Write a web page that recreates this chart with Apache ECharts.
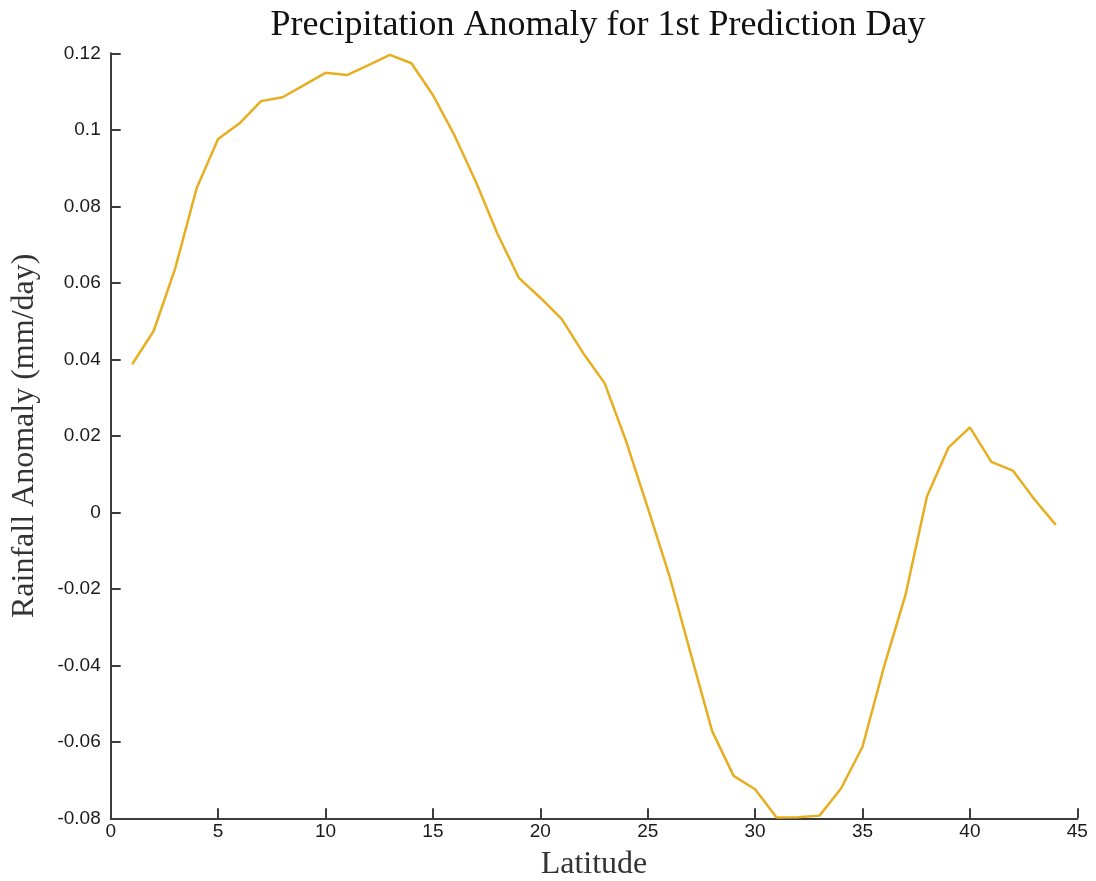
<!DOCTYPE html>
<html><head><meta charset="utf-8">
<script src="https://cdn.jsdelivr.net/npm/echarts@6/dist/echarts.min.js"></script>
<style>html,body{margin:0;padding:0;background:#fff}#c{width:1096px;height:881px}</style>
</head><body><div id="c"></div>
<script>
const latitudes = [1,2,3,4,5,6,7,8,9,10,11,12,13,14,15,16,17,18,19,20,21,22,23,24,25,26,27,28,29,30,31,32,33,34,35,36,37,38,39,40,41,42,43,44];
const anomaly = [0.0387,0.0474,0.0637,0.0847,0.0976,0.1017,0.1075,0.1085,0.1117,0.1149,0.1143,0.1169,0.1196,0.1174,0.1091,0.0986,0.0864,0.0729,0.0613,0.0561,0.0505,0.0416,0.0337,0.0185,0.0012,-0.0164,-0.0369,-0.0572,-0.0689,-0.0724,-0.0798,-0.0797,-0.0793,-0.0722,-0.0613,-0.0404,-0.0216,0.0041,0.0169,0.0222,0.0132,0.0109,0.0034,-0.0033];
const xTicks = {min:0, max:45, interval:5};
const yTicks = {min:-0.08, max:0.12, interval:0.02};

const chart = echarts.init(document.getElementById('c'));
const axisCol = '#3c3c3c';
chart.setOption({
  animation:false,
  backgroundColor:'#fff',
  title:{text:'Precipitation Anomaly for 1st Prediction Day', left:593, textAlign:'center', top:3,
    textStyle:{fontFamily:'Liberation Serif', fontWeight:'normal', fontSize:36, color:'#111'}},
  grid:{left:110.7, right:18.7, top:53.3, bottom:62.7, containLabel:false, outerBoundsMode:'none'},
  xAxis:{type:'value', min:xTicks.min, max:xTicks.max, interval:xTicks.interval,
    name:'Latitude', nameLocation:'middle', nameGap:30,
    nameTextStyle:{fontFamily:'Liberation Serif', fontSize:32, color:'#333'},
    axisLine:{show:true, onZero:false, lineStyle:{color:axisCol, width:2}},
    axisTick:{show:true, inside:true, length:10, lineStyle:{color:axisCol, width:2}},
    axisLabel:{fontFamily:'Liberation Sans', fontSize:19, color:'#1a1a1a', margin:4},
    splitLine:{show:false}},
  yAxis:{type:'value', min:yTicks.min, max:yTicks.max, interval:yTicks.interval,
    name:'Rainfall Anomaly (mm/day)', nameLocation:'middle', nameGap:70,
    nameTextStyle:{fontFamily:'Liberation Serif', fontSize:32, color:'#333'},
    axisLine:{show:true, onZero:false, lineStyle:{color:axisCol, width:2}},
    axisTick:{show:true, inside:true, length:10, lineStyle:{color:axisCol, width:2}},
    axisLabel:{fontFamily:'Liberation Sans', fontSize:19, color:'#1a1a1a', margin:10},
    splitLine:{show:false}},
  series:[{type:'line', data:latitudes.map((x,i)=>[x, anomaly[i]]), showSymbol:false,
    lineStyle:{color:'#E8AE22', width:2.5}, itemStyle:{color:'#E8AE22'}}]
});
</script></body></html>
